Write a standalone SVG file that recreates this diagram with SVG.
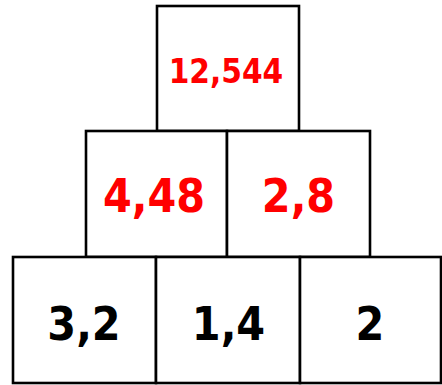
<svg xmlns="http://www.w3.org/2000/svg" width="442" height="385" viewBox="0 0 442 385">
<style>
.box{fill:#fff;stroke:#000;stroke-width:2.6}
.t{font-family:"DejaVu Sans Condensed","DejaVu Sans",sans-serif;font-weight:bold;text-anchor:middle}
.red{fill:#ff0000}
.blk{fill:#000}
</style>
<rect width="442" height="385" fill="#fff"/>
<g id="top">
<rect class="box" x="157" y="6" width="142" height="125"/>
<text class="t red" x="226" y="83" font-size="33">12,544</text>
</g>
<g id="mid-left">
<rect class="box" x="86" y="131" width="141" height="126"/>
<text class="t red" x="154" y="212" font-size="46">4,48</text>
</g>
<g id="mid-right">
<rect class="box" x="227" y="131" width="143" height="126"/>
<text class="t red" x="298.5" y="212" font-size="46">2,8</text>
</g>
<g id="bot-left">
<rect class="box" x="13" y="257" width="143" height="126"/>
<text class="t blk" x="84" y="340" font-size="46">3,2</text>
</g>
<g id="bot-mid">
<rect class="box" x="156" y="257" width="144" height="126"/>
<text class="t blk" x="228.5" y="340" font-size="46">1,4</text>
</g>
<g id="bot-right">
<rect class="box" x="300" y="257" width="141" height="126"/>
<text class="t blk" x="370" y="340" font-size="46">2</text>
</g>
<g id="connectors"></g>
</svg>
